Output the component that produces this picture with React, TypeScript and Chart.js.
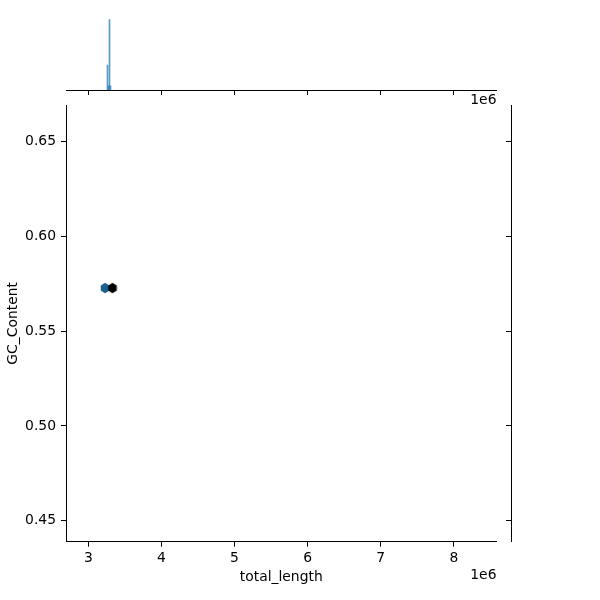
import React, { useEffect, useRef } from 'react';
import { Chart, registerables } from 'chart.js';

Chart.register(...registerables);
Chart.defaults.font.family = '"DejaVu Sans", sans-serif';

// ---- data ----
const xTicks = [3e6, 4e6, 5e6, 6e6, 7e6, 8e6];
const yTicks = [0.45, 0.5, 0.55, 0.6, 0.65];
const hexX = [3.228e6, 3.331e6];
const hexY = [0.5728, 0.5728];
const hexCount = [12, 18];
const histX = [3.2625e6, 3.2762e6, 3.2899e6, 3.3035e6];
const histCount = [6, 1, 17, 1];
const xLabel = 'total_length';
const yLabel = 'GC_Content';
const offsetText = '1e6';

const X_MIN = 2.695e6;
const X_MAX = 8.584e6;
const Y_MIN = 0.4389;
const Y_MAX = 0.6694;
const HIST_MAX = 21;

// ---- layout (px) ----
const W = 600;
const H = 600;
const L = 66;
const R = 496.5;
const T = 105;
const B = 541.7;
const TOP_T = 3;
const TOP_B = 90;
const RIGHT_L = 511;
const RIGHT_R = 597;
const FS = 13.9;

function hlsToRgb(h: number, l: number, s: number) {
  const c = (1 - Math.abs(2 * l - 1)) * s;
  const hp = h / 60;
  const x = c * (1 - Math.abs((hp % 2) - 1));
  let r = 0, g = 0, b = 0;
  if (hp < 1) [r, g, b] = [c, x, 0];
  else if (hp < 2) [r, g, b] = [x, c, 0];
  else if (hp < 3) [r, g, b] = [0, c, x];
  else if (hp < 4) [r, g, b] = [0, x, c];
  else if (hp < 5) [r, g, b] = [x, 0, c];
  else [r, g, b] = [c, 0, x];
  const m = l - c / 2;
  return `rgb(${Math.round((r + m) * 255)},${Math.round((g + m) * 255)},${Math.round((b + m) * 255)})`;
}

function hexColor(count: number, max: number) {
  return hlsToRgb(204.6, 1 - count / max, 0.706);
}

function hexImage(color: string) {
  const c = document.createElement('canvas');
  c.width = 12;
  c.height = 12;
  const g = c.getContext('2d')!;
  const w = 4.3, h = 5.2, s = 2.6;
  g.fillStyle = color;
  g.beginPath();
  g.moveTo(6, 6 - h);
  g.lineTo(6 + w, 6 - s);
  g.lineTo(6 + w, 6 + s);
  g.lineTo(6, 6 + h);
  g.lineTo(6 - w, 6 + s);
  g.lineTo(6 - w, 6 - s);
  g.closePath();
  g.fill();
  return c;
}

const axisGrid = {
  display: true,
  drawOnChartArea: false,
  drawTicks: true,
  tickLength: 5,
  color: '#000',
  lineWidth: 1,
};
const axisBorder = { display: true, color: '#000', width: 1 };

export default function App() {
  const mainRef = useRef<HTMLCanvasElement>(null);
  const topRef = useRef<HTMLCanvasElement>(null);
  const rightRef = useRef<HTMLCanvasElement>(null);

  useEffect(() => {
    const maxCount = Math.max(...hexCount);
    const images = hexCount.map((c) => hexImage(hexColor(c, maxCount)));

    const offsetPlugin = {
      id: 'offsetText',
      afterDraw(chart: any) {
        const ctx = chart.ctx;
        const xs = chart.scales.x;
        ctx.save();
        ctx.font = `${FS}px "DejaVu Sans"`;
        ctx.fillStyle = '#000';
        ctx.textAlign = 'right';
        ctx.textBaseline = 'middle';
        ctx.fillText(offsetText, xs.right, B + 33.5);
        ctx.fillText(offsetText, xs.right, TOP_B + 10);
        ctx.restore();
      },
    };

    const main = new Chart(mainRef.current!, {
      type: 'scatter',
      data: {
        datasets: [
          {
            data: hexX.map((x, i) => ({ x, y: hexY[i] })),
            pointStyle: (ctx: any) => images[ctx.dataIndex] as any,
            pointRadius: 5,
            pointHoverRadius: 5,
          } as any,
        ],
      },
      options: {
        animation: false,
        responsive: false,
        devicePixelRatio: 1,
        events: [],
        layout: { padding: { left: 0, top: T, right: W - R, bottom: 0 } },
        plugins: { legend: { display: false }, tooltip: { enabled: false } },
        scales: {
          x: {
            type: 'linear',
            min: X_MIN,
            max: X_MAX,
            afterBuildTicks: (s: any) => {
              s.ticks = xTicks.map((v) => ({ value: v }));
            },
            afterFit: (s: any) => {
              s.height = H - B;
            },
            grid: axisGrid as any,
            border: axisBorder as any,
            ticks: {
              callback: (v: any) => String(Number(v) / 1e6),
              color: '#000',
              font: { size: FS },
              padding: 3,
              maxRotation: 0,
              autoSkip: false,
            },
            title: {
              display: true,
              text: xLabel,
              color: '#000',
              font: { size: FS },
              padding: { top: 0, bottom: 14 },
            },
          },
          y: {
            type: 'linear',
            min: Y_MIN,
            max: Y_MAX,
            afterBuildTicks: (s: any) => {
              s.ticks = yTicks.map((v) => ({ value: v }));
            },
            afterFit: (s: any) => {
              s.width = L;
            },
            grid: axisGrid as any,
            border: axisBorder as any,
            ticks: {
              callback: (v: any) => Number(v).toFixed(2),
              color: '#000',
              font: { size: FS },
              padding: 5,
              autoSkip: false,
            },
            title: {
              display: true,
              text: yLabel,
              color: '#000',
              font: { size: FS },
              padding: { top: 5, bottom: 0 },
            },
          },
        },
      },
      plugins: [offsetPlugin],
    } as any);

    const top = new Chart(topRef.current!, {
      type: 'bar',
      data: {
        datasets: [
          {
            data: histX.map((x, i) => ({ x, y: histCount[i] })),
            backgroundColor: 'rgba(31,119,180,0.75)',
            borderWidth: 0,
            barThickness: 1,
          } as any,
        ],
      },
      options: {
        animation: false,
        responsive: false,
        devicePixelRatio: 1,
        events: [],
        layout: { padding: { left: L, top: TOP_T, right: W - R, bottom: H - TOP_B - 10 } },
        plugins: { legend: { display: false }, tooltip: { enabled: false } },
        scales: {
          x: {
            type: 'linear',
            min: X_MIN,
            max: X_MAX,
            offset: false,
            afterBuildTicks: (s: any) => {
              s.ticks = xTicks.map((v) => ({ value: v }));
            },
            afterFit: (s: any) => {
              s.height = 10;
            },
            grid: { ...axisGrid, offset: false } as any,
            border: axisBorder as any,
            ticks: { display: false },
          },
          y: { display: false, min: 0, max: HIST_MAX },
        },
      },
    } as any);

    const right = new Chart(rightRef.current!, {
      type: 'scatter',
      data: { datasets: [{ data: [] as any[] }] },
      options: {
        animation: false,
        responsive: false,
        devicePixelRatio: 1,
        events: [],
        layout: { padding: { left: RIGHT_L - 6, top: T, right: W - RIGHT_R, bottom: H - B } },
        plugins: { legend: { display: false }, tooltip: { enabled: false } },
        scales: {
          x: { display: false, min: 0, max: 1 },
          y: {
            type: 'linear',
            min: Y_MIN,
            max: Y_MAX,
            afterBuildTicks: (s: any) => {
              s.ticks = yTicks.map((v) => ({ value: v }));
            },
            afterFit: (s: any) => {
              s.width = 6;
            },
            grid: axisGrid as any,
            border: axisBorder as any,
            ticks: { display: false },
          },
        },
      },
    } as any);

    return () => {
      main.destroy();
      top.destroy();
      right.destroy();
    };
  }, []);

  const cs: React.CSSProperties = { position: 'absolute', left: 0, top: 0, width: W, height: H };
  return (
    <div style={{ position: 'absolute', left: 0, top: 0, width: W, height: H, background: '#fff' }}>
      <canvas ref={mainRef} width={W} height={H} style={cs} />
      <canvas ref={topRef} width={W} height={H} style={cs} />
      <canvas ref={rightRef} width={W} height={H} style={cs} />
    </div>
  );
}
